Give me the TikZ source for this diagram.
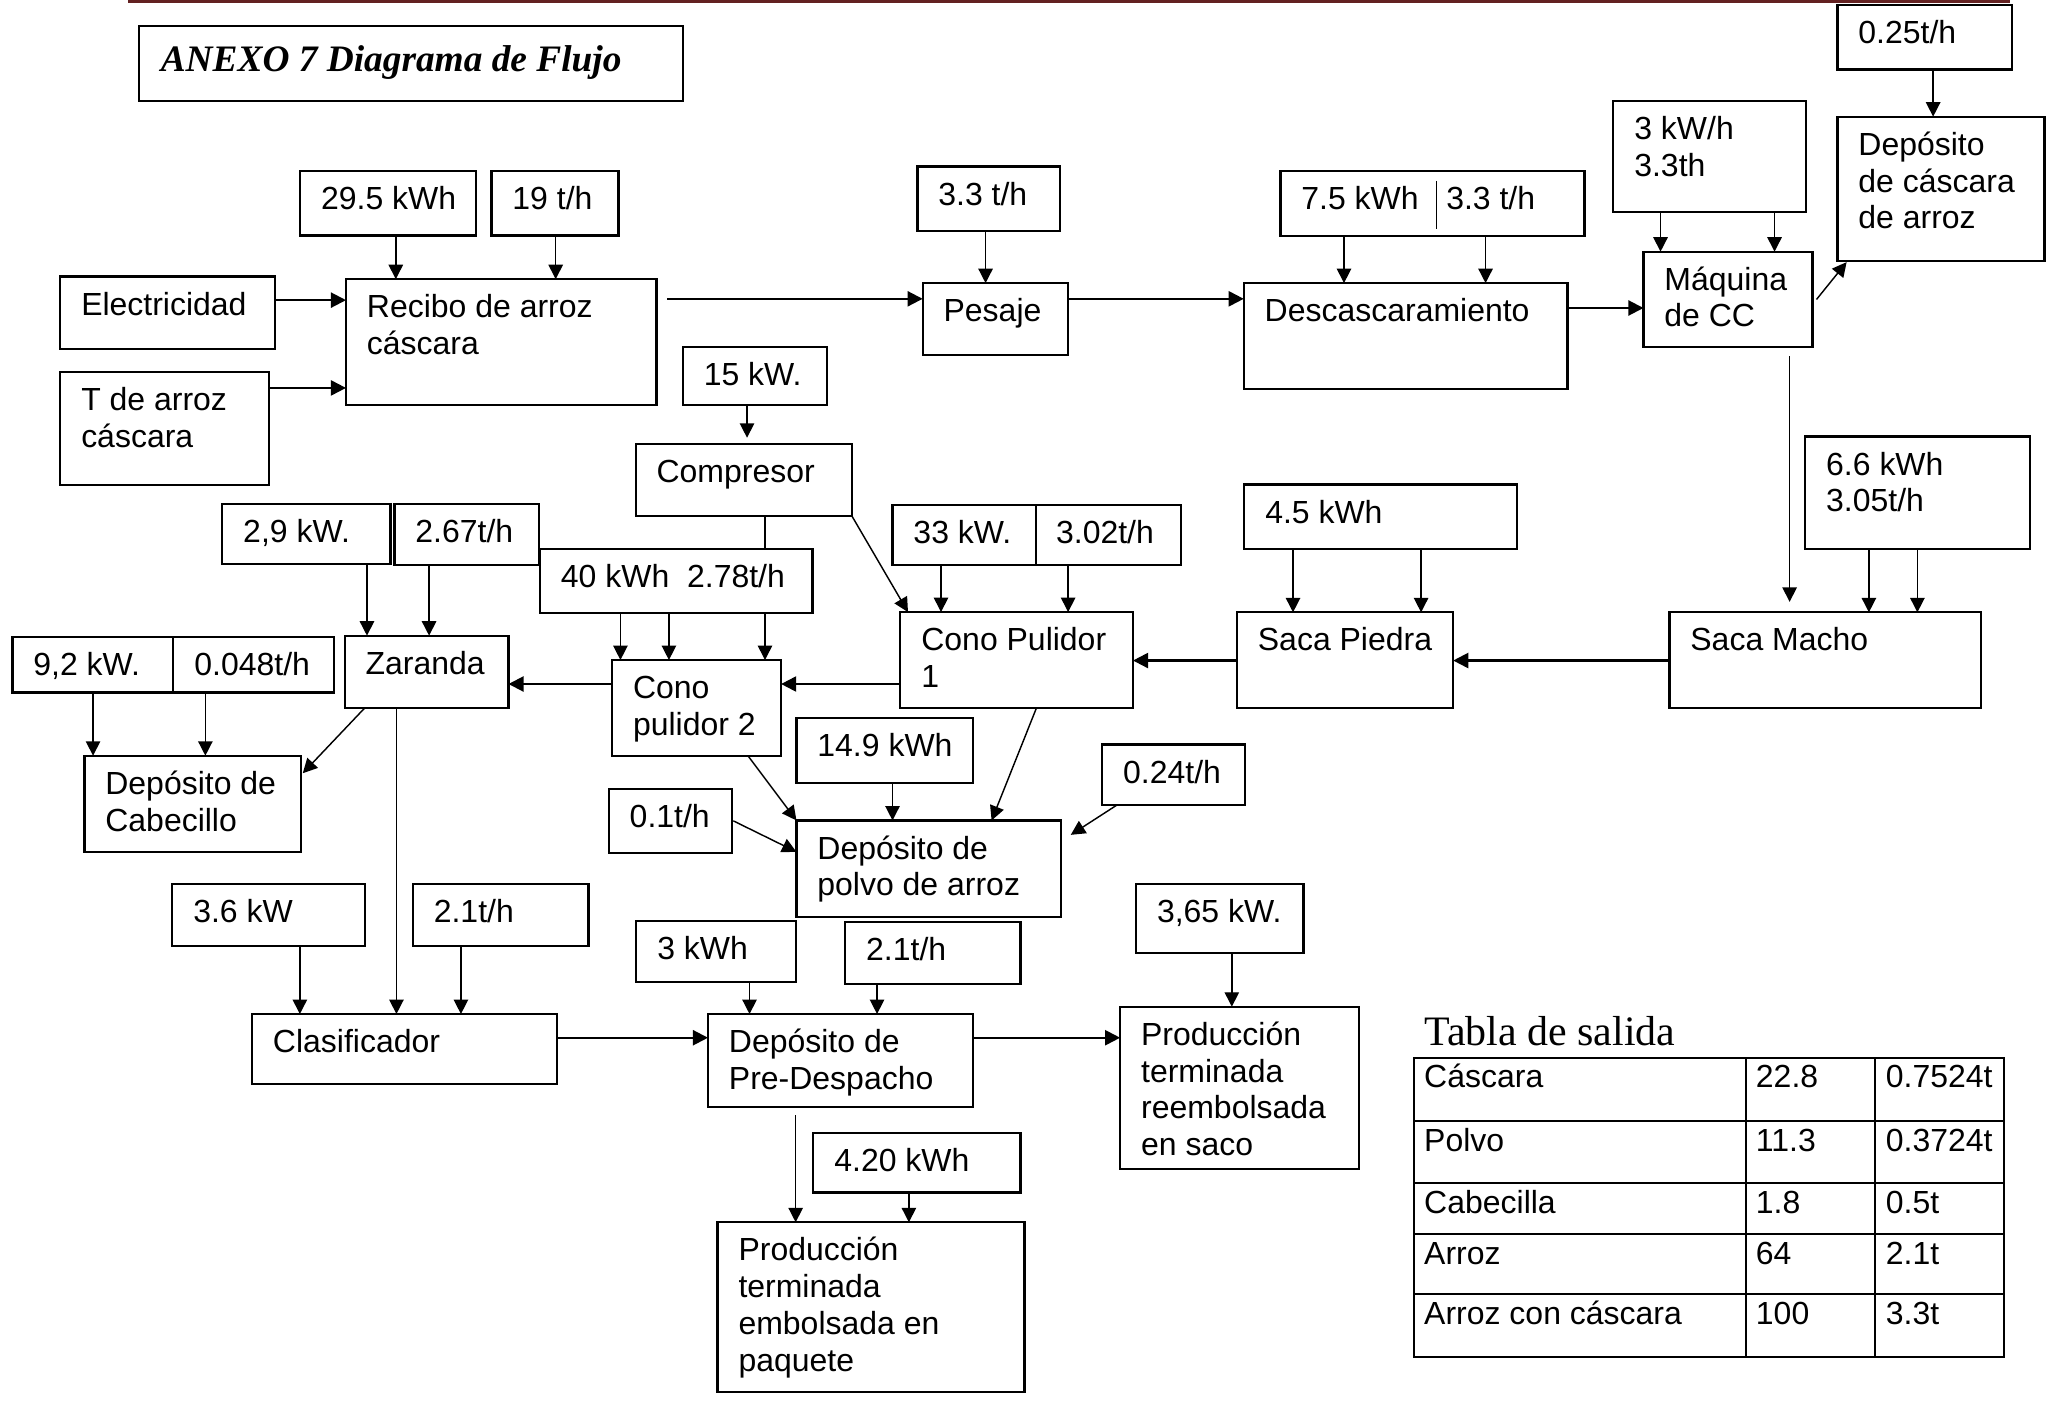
\documentclass[tikz,border=0pt]{standalone}
\usepackage{fontspec}
\setmainfont{Liberation Sans}
\newfontfamily\ttlserif{Liberation Serif}
\usetikzlibrary{arrows.meta,calc}
\definecolor{topred}{RGB}{99,33,33}
\tikzset{
  box/.style={draw, line width=1.7pt, inner sep=0pt, outer sep=0pt, anchor=north west},
  txt/.style={inner sep=0pt, outer sep=0pt, anchor=north west, align=left, font=\fontsize{24.4}{28}\selectfont},
  cell/.style={inner sep=0pt, outer sep=0pt, anchor=base west, font=\fontsize{24.4}{28}\selectfont},
  arr/.style={line width=1.1pt, -{Triangle[length=11pt,width=11pt]}},
  flow/.style={line width=1.6pt, -{Triangle[length=11.5pt,width=11.5pt]}},
  ln/.style={line width=1.1pt},
  grid/.style={line width=1.5pt},
}
\newcommand{\boxnode}[6]{%
  \node[box, minimum width={(#4-#2)*1pt}, minimum height={(#5-#3)*1pt}] (#1) at (#2,#3) {};
  \node[txt] (#1t) at ($(#1.north west)+(16,9.9)$) {\strut #6};}
\newcommand{\downarr}[3]{\draw[arr] (#1.south -| #3,0) -- (#2.north -| #3,0);}
\begin{document}
\begin{tikzpicture}[x=1pt,y=-1pt]
\useasboundingbox (0,0) rectangle (1568,1079);
\draw[topred, line width=2.4pt] (97.5,1.2) -- (1533.7,1.2);
% title
\node[box, minimum width=415pt, minimum height=57pt] (title) at (106,20) {};
\node[inner sep=0pt, anchor=base west, font=\ttlserif\bfseries\itshape\fontsize{28.5}{34}\selectfont] (titlet) at ($(title.north west)+(16.5,34.7)$) {ANEXO 7 Diagrama de Flujo};
% boxes
\boxnode{a025}{1402}{4}{1535}{53}{0.25t/h}
\boxnode{depcasc}{1402}{89}{1560}{199}{Depósito\\de cáscara\\de arroz}
\boxnode{akwh}{1231}{77}{1378}{162}{3 kW/h\\3.3th}
\boxnode{maquina}{1254}{192}{1383}{265}{Máquina\\de CC}
\boxnode{a75}{977}{130.5}{1209}{180}{7.5 kWh}
\node[txt] (a75b) at ($(a75.north west)+(126.5,9.9)$) {\strut 3.3 t/h};
\draw[ln] ($(a75.north -| 1096,0)+(0,7.5)$) -- ($(a75.south -| 1096,0)+(0,-5)$);
\boxnode{descasc}{949}{216}{1196}{297}{Descascaramiento}
\boxnode{a33h}{700}{127}{809}{176}{3.3 t/h}
\boxnode{pesaje}{704}{216}{815}{271}{Pesaje}
\boxnode{a29}{229}{130.5}{363}{179.6}{29.5 kWh}
\boxnode{a19}{375}{130.5}{472}{179.6}{19 t/h}
\boxnode{elec}{46}{211}{210}{266}{Electricidad}
\boxnode{recibo}{264}{213}{501}{309}{Recibo de arroz\\cáscara}
\boxnode{tarroz}{46}{284}{205}{370}{T de arroz\\cáscara}
\boxnode{a15}{521}{265}{631}{309}{15 kW.}
\boxnode{compresor}{485}{339}{650}{393.7}{Compresor}
\boxnode{a29kw}{169.6}{384.8}{298}{430.6}{2,9 kW.}
\boxnode{a267}{301}{384.8}{411}{431}{2.67t/h}
\boxnode{a40}{412}{418.6}{620}{467.7}{40 kWh\ \ 2.78t/h}
\boxnode{a33kw}{681}{385.3}{901}{431}{33 kW.}
\node[txt] (a33kwb) at ($(a33kw.north west)+(124.8,9.9)$) {\strut 3.02t/h};
\draw[box] (a33kw.north -| 790.7,0) -- (a33kw.south -| 790.7,0);
\boxnode{cono1}{687}{467}{864.5}{540.5}{Cono Pulidor\\1}
\boxnode{a45}{949.4}{369.6}{1157.6}{418.9}{4.5 kWh}
\boxnode{sacapiedra}{943.8}{467.2}{1108.8}{540.5}{Saca Piedra}
\boxnode{a66}{1377.4}{333}{1548.9}{418.9}{6.6 kWh\\3.05t/h}
\boxnode{sacamacho}{1273.8}{467.2}{1511.7}{540.5}{Saca Macho}
\boxnode{zaranda}{263}{485}{388}{540.5}{Zaranda}
\boxnode{a92}{9.5}{485.8}{254.6}{528.3}{9,2 kW.}
\node[txt] (a92b) at ($(a92.north west)+(138.8,9.9)$) {\strut 0.048t/h};
\draw[box] (a92.north -| 132,0) -- (a92.south -| 132,0);
\boxnode{cabecillo}{64.4}{576.6}{229.4}{650.3}{Depósito de\\Cabecillo}
\boxnode{cono2}{467}{503.6}{596}{576.8}{Cono\\pulidor 2}
\boxnode{a149}{607.7}{548}{742.6}{597.2}{14.9 kWh}
\boxnode{a01}{464.5}{602}{558.5}{650.6}{0.1t/h}
\boxnode{polvo}{607.7}{626}{809.7}{699.4}{Depósito de\\polvo de arroz}
\boxnode{a024}{841}{568}{950}{614.2}{0.24t/h}
\boxnode{a36}{131.5}{674.5}{278.7}{721.8}{3.6 kW}
\boxnode{a21a}{315}{674.5}{449}{721.8}{2.1t/h}
\boxnode{clasif}{192.3}{773.7}{424.7}{827.1}{Clasificador}
\boxnode{a3kwh}{485.5}{702.5}{607.1}{749.5}{3 kWh}
\boxnode{a21b}{644.9}{703.7}{778.7}{751}{2.1t/h}
\boxnode{predesp}{540.2}{773.7}{742.2}{844.9}{Depósito de\\Pre-Despacho}
\boxnode{a365}{866.8}{674.5}{994.6}{727.4}{3,65 kW.}
\boxnode{saco}{854.7}{768.1}{1037.2}{892}{Producción\\terminada\\reembolsada\\en saco}
\boxnode{a420}{620.6}{864.7}{778.7}{909.8}{4.20 kWh}
\boxnode{paquete}{547.5}{932.6}{781.7}{1061.9}{Producción\\terminada\\embolsada en\\paquete}
% connectors
\downarr{a29}{recibo}{302}
\downarr{a19}{recibo}{424}
\draw[flow] (elec.east |- 0,229) -- (recibo.west |- 0,229);
\draw[flow] (tarroz.east |- 0,296) -- (recibo.west |- 0,296);
\draw[flow] ($(recibo.east |- 0,228)+(8,0)$) -- (pesaje.west |- 0,228);
\downarr{a33h}{pesaje}{752}
\draw[flow] (pesaje.east |- 0,228) -- (descasc.west |- 0,228);
\downarr{a75}{descasc}{1025.5}
\downarr{a75}{descasc}{1133.5}
\draw[flow] (descasc.east |- 0,235) -- (maquina.west |- 0,235);
\downarr{akwh}{maquina}{1267}
\downarr{akwh}{maquina}{1354}
\draw[arr] ($(maquina.east |- 0,228.5)+(3,0)$) -- ($(depcasc.south west)+(7,1)$);
\downarr{a025}{depcasc}{1475}
\draw[arr] ($(maquina.south -| 1365.5,0)+(0,7)$) -- ($(sacamacho.north -| 1365.5,0)+(0,-8)$);
\downarr{a66}{sacamacho}{1426}
\downarr{a66}{sacamacho}{1463}
\draw[flow] (sacamacho.west |- 0,504) -- (sacapiedra.east |- 0,504);
\downarr{a45}{sacapiedra}{986.6}
\downarr{a45}{sacapiedra}{1084.3}
\draw[flow] (sacapiedra.west |- 0,504) -- (cono1.east |- 0,504);
\draw[arr, shorten >=5pt] (a15.south -| 570,0) -- (compresor.north -| 570,0);
\draw[arr] (compresor.south east) -- ($(cono1.north west)+(5.8,0)$);
\draw[ln] (compresor.south -| 583.7,0) -- (a40.north -| 583.7,0);
\downarr{a33kw}{cono1}{718}
\downarr{a33kw}{cono1}{815}
\downarr{a40}{cono2}{473.4}
\downarr{a40}{cono2}{510.4}
\downarr{a40}{cono2}{583.7}
\draw[flow] (cono1.west |- 0,521.9) -- (cono2.east |- 0,521.9);
\draw[flow] (cono2.west |- 0,521.9) -- (zaranda.east |- 0,521.9);
\downarr{a29kw}{zaranda}{280}
\downarr{a267}{zaranda}{327.4}
\downarr{a92}{cabecillo}{71}
\downarr{a92}{cabecillo}{156.7}
\draw[arr] ($(zaranda.south west)+(15,0)$) -- ($(cabecillo.north east)+(1.6,13.4)$);
\downarr{zaranda}{clasif}{302.5}
\draw[arr] ($(cono2.south west)+(103.8,0)$) -- (polvo.north west);
\draw[arr] ($(cono1.south west)+(103.7,0)$) -- (polvo.north -| 756.6,0);
\downarr{a149}{polvo}{681}
\draw[arr] ($(a01.east)+(1,0)$) -- (polvo.west |- 0,650);
\draw[arr] ($(a024.south west)+(11.3,0)$) -- ($(polvo.north east)+(7.3,11)$);
\downarr{a36}{clasif}{228.8}
\downarr{a21a}{clasif}{351.7}
\draw[flow] (clasif.east |- 0,791.8) -- (predesp.west |- 0,791.8);
\downarr{a3kwh}{predesp}{571.9}
\downarr{a21b}{predesp}{669.2}
\draw[flow] (predesp.east |- 0,791.8) -- (saco.west |- 0,791.8);
\downarr{a365}{saco}{939.9}
\draw[arr] ($(predesp.south -| 607.1,0)+(0,6)$) -- (paquete.north -| 607.1,0);
\downarr{a420}{paquete}{693.5}
% table
\node[inner sep=0pt, anchor=base west, font=\ttlserif\fontsize{32}{38}\selectfont] (tabtitle) at (1086.7,797.4) {Tabla de salida};
\draw[grid] (1078.7,807) rectangle (1529.4,1035.2);
\foreach \yy in {855.3,902.9,941.5,987.6} \draw[grid] (1078.7,\yy) -- (1529.4,\yy);
\foreach \xx in {1332.2,1431} \draw[grid] (\xx,807) -- (\xx,1035.2);
\node[cell] (c11) at (1086.7,830) {Cáscara};
\node[cell] (c12) at (1339.8,830) {22.8};
\node[cell] (c13) at (1438.9,830) {0.7524t};
\node[cell] (c21) at (1086.7,878.3) {Polvo};
\node[cell] (c22) at (1339.8,878.3) {11.3};
\node[cell] (c23) at (1438.9,878.3) {0.3724t};
\node[cell] (c31) at (1086.7,925.9) {Cabecilla};
\node[cell] (c32) at (1339.8,925.9) {1.8};
\node[cell] (c33) at (1438.9,925.9) {0.5t};
\node[cell] (c41) at (1086.7,964.5) {Arroz};
\node[cell] (c42) at (1339.8,964.5) {64};
\node[cell] (c43) at (1438.9,964.5) {2.1t};
\node[cell] (c51) at (1086.7,1010.6) {Arroz con cáscara};
\node[cell] (c52) at (1339.8,1010.6) {100};
\node[cell] (c53) at (1438.9,1010.6) {3.3t};
\end{tikzpicture}
\end{document}
